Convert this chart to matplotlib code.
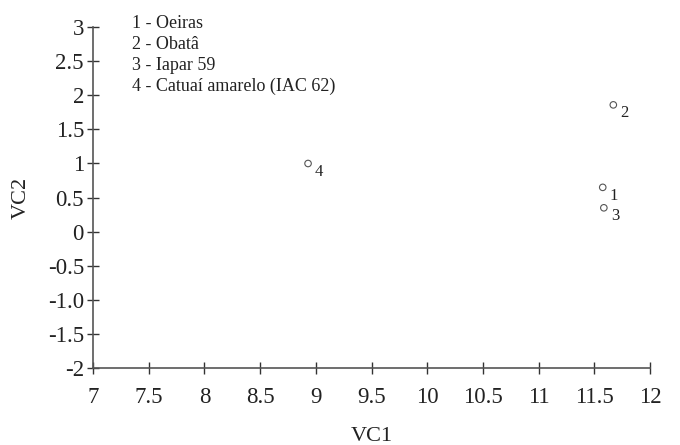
import numpy as np
import matplotlib.pyplot as plt

plt.rcParams['font.family'] = ['Liberation Serif', 'DejaVu Serif']

# dados
labels = ["1", "2", "3", "4"]
vc1 = [11.575, 11.67, 11.585, 8.93]
vc2 = [0.65, 1.86, 0.35, 1.0]
names = ["1 - Oeiras", "2 - Obatâ", "3 - Iapar 59", "4 - Catuaí amarelo (IAC 62)"]
xticks = [7, 7.5, 8, 8.5, 9, 9.5, 10, 10.5, 11, 11.5, 12]
yticks = [-2, -1.5, -1.0, -0.5, 0, 0.5, 1, 1.5, 2, 2.5, 3]
ytick_labels = ["-2", "-1.5", "-1.0", "-0.5", "0", "0.5", "1", "1.5", "2", "2.5", "3"]

fig = plt.figure(figsize=(6.8, 4.45), dpi=100)
ax = fig.add_axes([0.1368, 0.173, 0.8192, 0.766])

ax.scatter(vc1, vc2, s=22, facecolors="none", edgecolors="#555555", linewidths=0.8)
for x, y, t in zip(vc1, vc2, labels):
    ax.annotate(t, (x, y), xytext=(5, -9), textcoords="offset points",
                fontsize=12, color="#222222")

ax.set_xlim(7, 12)
ax.set_ylim(-2, 3)
ax.set_xticks(xticks)
ax.set_xticklabels([f"{v:g}" for v in xticks])
ax.set_yticks(yticks)
ax.set_yticklabels(ytick_labels)
ax.tick_params(direction="inout", length=9, width=1, labelsize=16.5,
               color="#333333", labelcolor="#222222")
ax.tick_params(axis="x", pad=9)
ax.tick_params(axis="y", pad=2)

for s in ["top", "right"]:
    ax.spines[s].set_visible(False)
for s in ["left", "bottom"]:
    ax.spines[s].set_color("#555555")
    ax.spines[s].set_linewidth(1.2)

ax.set_xlabel("VC1", fontsize=16, labelpad=14, color="#222222")
ax.set_ylabel("VC2", fontsize=16, labelpad=12, color="#222222")

for i, n in enumerate(names):
    fig.text(0.194, 0.948 - i * 0.0475, n, fontsize=13, va="center", color="#222222")

fig.savefig("out.png", dpi=100)
